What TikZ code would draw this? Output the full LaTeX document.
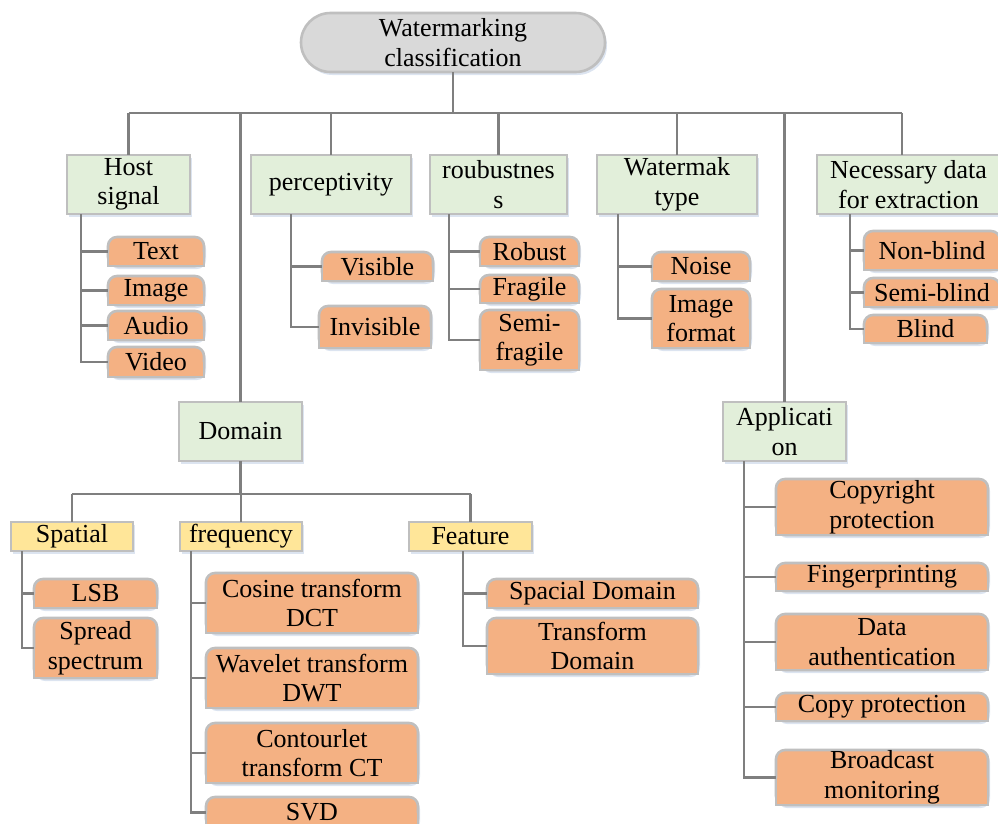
\documentclass[tikz,border=0pt]{standalone}
\usepackage{fontspec}
\setmainfont{Liberation Serif}
\usetikzlibrary{calc}

\definecolor{ofill}{HTML}{F4B183}
\definecolor{gfill}{HTML}{E2EFDA}
\definecolor{yfill}{HTML}{FFE699}
\definecolor{rfill}{HTML}{D9D9D9}
\definecolor{edge}{HTML}{BFBFBF}
\definecolor{wire}{HTML}{7F7F7F}
\definecolor{glow}{HTML}{DCE4F0}

\tikzset{
  conn/.style={draw=wire, line width=2.6pt},
  boxline/.style={draw=edge, line width=2.6pt},
  lbl/.style={inner sep=0pt, align=center, text=black,
    font=\fontsize{26}{29.5}\selectfont},
}

% square box: name, fill, x1, y1, x2, y2, text
\newcommand\sqbox[7]{%
  \fill[glow] (#3+2,#4+3) rectangle (#5+2,#6+3);
  \draw[boxline, fill=#2] (#3,#4) rectangle (#5,#6);
  \node[lbl, minimum width={#5-#3}, minimum height={#6-#4}] (#1)
    at ({(#3+#5)/2},{(#4+#6)/2}) {#7};
}
% leaf box with rounded top corners: name, x1, y1, x2, y2, text
\newcommand\leafbox[6]{%
  \fill[glow, rounded corners=9] (#2+2,#3+3) rectangle (#4+2,#5+3);
  \draw[boxline, fill=ofill, rounded corners=9] (#2,#3) rectangle (#4,#5);
  \fill[ofill] (#2+1.3,{(#3+#5)/2}) rectangle (#4-1.3,#5-1.3);
  \draw[boxline] (#2,{(#3+#5)/2}) -- (#2,#5) -- (#4,#5) -- (#4,{(#3+#5)/2});
  \node[lbl, minimum width={#4-#2}, minimum height={#5-#3}] (#1)
    at ({(#2+#4)/2},{(#3+#5)/2}) {#6};
}

\begin{document}
\begin{tikzpicture}[x=1pt, y=-1pt]
\useasboundingbox (0,0) rectangle (998,823);

% bus levels
\coordinate (busy) at (0,113);
\coordinate (lowy) at (0,494);

% root
\fill[glow, rounded corners=29.5] (303,16) rectangle (607,75);
\draw[boxline, fill=rfill, rounded corners=29.5] (301,13) rectangle (605,72);
\node[lbl, minimum width=304, minimum height=59] (root) at (453,42.5)
  {Watermarking\\classification};

% first level
\sqbox{host}{gfill}{67}{155}{190}{214}{Host\\signal}
\sqbox{perc}{gfill}{251}{155}{411}{214}{perceptivity}
\sqbox{robu}{gfill}{430}{155}{567}{214}{roubustnes\\s}
\sqbox{wtyp}{gfill}{597}{155}{757}{214}{Watermak\\type}
\sqbox{need}{gfill}{817}{155}{1000}{214}{Necessary data\\for extraction}
\sqbox{domain}{gfill}{179}{402}{302}{461}{Domain}
\sqbox{app}{gfill}{723}{402}{846}{461}{Applicati\\on}

% domain sub-classes
\sqbox{spatial}{yfill}{11}{522}{133}{551}{\raisebox{-2.5pt}{Spatial}}
\sqbox{freq}{yfill}{180}{522}{302}{551}{\raisebox{-2.5pt}{frequency}}
\sqbox{feat}{yfill}{409}{522}{532}{551}{\raisebox{-1pt}{Feature}}

% leaves
\leafbox{text}{108}{237}{204}{266}{Text}
\leafbox{image}{108}{276}{204}{305}{Image}
\leafbox{audio}{108}{311}{204}{340}{Audio}
\leafbox{video}{108}{347}{204}{377}{Video}

\leafbox{visible}{322}{252}{433}{281}{Visible}
\leafbox{invisible}{319}{306}{431}{348}{Invisible}

\leafbox{robust}{480}{237}{579}{266}{Robust}
\leafbox{fragile}{480}{275}{579}{303}{Fragile}
\leafbox{semifr}{480}{310}{579}{370}{Semi-\\fragile}

\leafbox{noise}{652}{252}{750}{281}{Noise}
\leafbox{imgfmt}{652}{289}{750}{348}{Image\\format}

\leafbox{nonbl}{864}{231}{1000}{270}{Non-blind}
\leafbox{semibl}{864}{278}{1000}{307}{Semi-blind}
\leafbox{blind}{864}{315}{987}{343}{Blind}

\leafbox{lsb}{34}{579}{157}{608}{LSB}
\leafbox{spread}{34}{618}{157}{678}{Spread\\spectrum}

\leafbox{cosine}{206}{573}{418}{633}{Cosine transform\\DCT}
\leafbox{wavelet}{206}{648}{418}{708}{Wavelet transform\\DWT}
\leafbox{contour}{206}{723}{418}{783}{Contourlet\\transform CT}
\leafbox{svd}{206}{797}{418}{828}{SVD}

\leafbox{spacial}{487}{579}{698}{608}{Spacial Domain}
\leafbox{transf}{487}{618}{698}{674}{Transform\\Domain}

\leafbox{copyr}{776}{479}{988}{535}{Copyright\\protection}
\leafbox{finger}{776}{563}{988}{591}{Fingerprinting}
\leafbox{dauth}{776}{614}{988}{670}{Data\\authentication}
\leafbox{cprot}{776}{693}{988}{721}{Copy protection}
\leafbox{bcast}{776}{750}{988}{805}{Broadcast\\monitoring}

% top-level bus
\coordinate (needdrop) at ($(need.north west)+(85,0)$);
\draw[conn] (root.south) -- (root.south |- busy);
\draw[conn] (host.north |- busy) -- (needdrop |- busy);
\foreach \n in {host,perc,robu,wtyp,domain,app}
  \draw[conn] (\n.north) -- (\n.north |- busy);
\draw[conn] (needdrop) -- (needdrop |- busy);

% domain bus
\draw[conn] (domain.south) -- (domain.south |- lowy);
\draw[conn] (spatial.north |- lowy) -- (feat.north |- lowy);
\foreach \n in {spatial,freq,feat}
  \draw[conn] (\n.north) -- (\n.north |- lowy);

% trunks to leaves
\coordinate (hostT) at ($(host.south west)+(14,0)$);
\foreach \c in {text,image,audio,video} \draw[conn] (hostT) |- (\c.west);
\coordinate (percT) at ($(perc.south west)+(40,0)$);
\foreach \c in {visible,invisible} \draw[conn] (percT) |- (\c.west);
\coordinate (robuT) at ($(robu.south west)+(19,0)$);
\foreach \c in {robust,fragile,semifr} \draw[conn] (robuT) |- (\c.west);
\coordinate (wtypT) at ($(wtyp.south west)+(21,0)$);
\foreach \c in {noise,imgfmt} \draw[conn] (wtypT) |- (\c.west);
\coordinate (needT) at ($(need.south west)+(33,0)$);
\foreach \c in {nonbl,semibl,blind} \draw[conn] (needT) |- (\c.west);
\coordinate (spatT) at ($(spatial.south west)+(11,0)$);
\foreach \c in {lsb,spread} \draw[conn] (spatT) |- (\c.west);
\coordinate (freqT) at ($(freq.south west)+(11,0)$);
\foreach \c in {cosine,wavelet,contour,svd} \draw[conn] (freqT) |- (\c.west);
\coordinate (featT) at ($(feat.south west)+(54,0)$);
\foreach \c in {spacial,transf} \draw[conn] (featT) |- (\c.west);
\coordinate (appT) at ($(app.south west)+(21,0)$);
\foreach \c in {copyr,finger,dauth,cprot,bcast} \draw[conn] (appT) |- (\c.west);
\end{tikzpicture}
\end{document}
